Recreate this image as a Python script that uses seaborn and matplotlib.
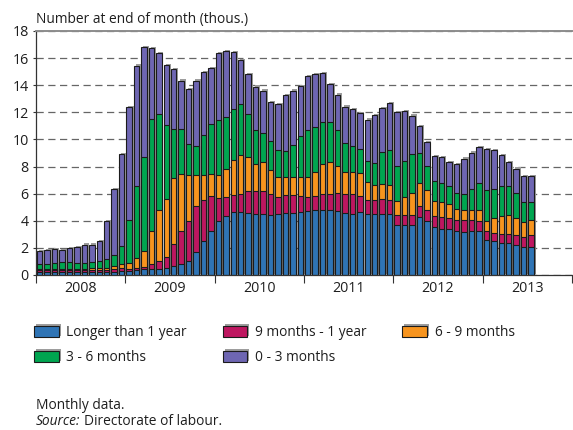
import numpy as np
import pandas as pd
import matplotlib
matplotlib.use("Agg")
import matplotlib.pyplot as plt
import matplotlib.patheffects as pe
from matplotlib.patches import Patch
import seaborn as sns

# Monthly observations, January 2008 - July 2013 (thousands)
years = ["2008", "2009", "2010", "2011", "2012", "2013"]
months = pd.period_range("2008-01", "2013-07", freq="M").strftime("%Y-%m").tolist()

longer_1y = [0.25, 0.25, 0.25, 0.25, 0.25, 0.25, 0.25, 0.25, 0.25, 0.25, 0.25, 0.30,
             0.32, 0.37, 0.42, 0.45, 0.47, 0.54, 0.64, 0.80, 1.04, 1.72, 2.49, 3.22,
             4.00, 4.36, 4.62, 4.63, 4.60, 4.53, 4.48, 4.46, 4.47, 4.55, 4.60, 4.66,
             4.73, 4.78, 4.83, 4.78, 4.71, 4.60, 4.53, 4.62, 4.47, 4.48, 4.53, 4.53,
             3.68, 3.68, 3.68, 4.29, 3.97, 3.52, 3.43, 3.38, 3.26, 3.20, 3.26, 3.28,
             2.57, 2.50, 2.38, 2.33, 2.21, 2.08, 2.04]
months_9_12 = [0.12, 0.12, 0.12, 0.12, 0.12, 0.12, 0.12, 0.12, 0.12, 0.15, 0.20, 0.25,
               0.15, 0.12, 0.19, 0.36, 0.56, 0.76, 1.62, 2.45, 2.94, 3.35, 3.02, 2.59,
               1.71, 1.40, 1.28, 1.35, 1.62, 1.67, 1.74, 1.49, 1.31, 1.33, 1.28, 1.14,
               1.05, 1.02, 1.12, 1.18, 1.34, 1.35, 1.42, 1.21, 1.04, 1.08, 1.11, 1.03,
               0.73, 0.73, 0.73, 0.77, 0.86, 0.83, 0.86, 0.84, 0.78, 0.84, 0.78, 0.69,
               0.65, 0.61, 0.63, 0.66, 0.73, 0.74, 0.90]
months_6_9 = [0.10, 0.10, 0.10, 0.10, 0.10, 0.10, 0.10, 0.13, 0.13, 0.15, 0.20, 0.25,
              0.44, 0.73, 1.15, 2.45, 3.80, 4.29, 4.91, 4.17, 3.39, 2.30, 1.89, 1.64,
              1.64, 2.08, 2.60, 2.90, 2.48, 2.01, 2.11, 1.77, 1.47, 1.35, 1.35, 1.43,
              1.42, 1.82, 2.23, 2.37, 1.96, 1.65, 1.65, 1.70, 1.32, 1.11, 1.10, 1.06,
              1.03, 1.38, 1.63, 1.71, 1.42, 1.14, 1.10, 1.05, 0.83, 0.79, 0.79, 0.83,
              0.80, 1.06, 1.33, 1.42, 1.27, 1.10, 1.10]
months_3_6 = [0.33, 0.35, 0.40, 0.50, 0.50, 0.45, 0.45, 0.45, 0.50, 0.60, 0.82, 1.37,
              3.18, 5.32, 6.94, 8.26, 7.06, 5.44, 3.60, 3.34, 2.31, 2.18, 2.93, 3.70,
              4.11, 3.80, 3.72, 3.74, 3.19, 2.47, 2.15, 2.17, 1.94, 1.90, 2.38, 3.00,
              3.46, 3.30, 3.14, 2.99, 2.65, 2.14, 1.95, 1.78, 1.56, 1.57, 2.31, 2.62,
              2.61, 2.64, 2.91, 2.22, 1.81, 1.42, 1.39, 1.33, 1.15, 1.12, 1.49, 2.00,
              2.28, 2.20, 2.20, 2.13, 1.84, 1.47, 1.35]
months_0_3 = [0.96, 1.02, 1.04, 0.87, 1.02, 1.14, 1.33, 1.30, 1.52, 2.82, 4.85, 6.77,
              8.29, 8.90, 8.09, 5.22, 4.46, 4.48, 4.42, 3.58, 4.03, 4.79, 4.64, 4.12,
              4.89, 4.88, 4.23, 3.25, 2.91, 3.22, 3.12, 2.85, 3.43, 4.13, 3.99, 3.70,
              4.00, 3.91, 3.56, 2.78, 2.64, 2.69, 2.69, 2.63, 3.08, 3.58, 3.28, 3.43,
              3.99, 3.67, 2.81, 1.97, 1.74, 1.87, 1.90, 1.73, 2.14, 2.63, 2.71, 2.64,
              2.96, 2.82, 2.33, 1.79, 1.79, 1.89, 1.89]

series_labels = ["Longer than 1 year", "9 months - 1 year", "6 - 9 months",
                 "3 - 6 months", "0 - 3 months"]
series_values = [longer_1y, months_9_12, months_6_9, months_3_6, months_0_3]
colors = ["#2f74b5", "#be1660", "#f7941e", "#00a550", "#6e66b2"]

# Stacked layout: cumulative totals for each duration band
df = pd.DataFrame({"month": months})
running = np.zeros(len(months))
cum_cols = []
for lab, vals in zip(series_labels, series_values):
    running = running + np.asarray(vals)
    df["cum " + lab] = running
    cum_cols.append("cum " + lab)

sns.set_theme(style="white")
plt.rcParams["font.family"] = ["Open Sans", "DejaVu Sans"]
text_color = "#1e1e1e"
fs = 9.9

fig = plt.figure(figsize=(5.73, 4.30), dpi=100)
ax = fig.add_axes([36 / 573, 1 - 275 / 430, 536 / 573, 244 / 430])

edge = "#1b1b1b"
shadow = [pe.SimplePatchShadow(offset=(1.4, 0.9), shadow_rgbFace="#9d9d9d", alpha=1.0),
          pe.Normal()]

# Tallest cumulative layer first, smaller ones drawn on top of it
for k in range(len(series_labels) - 1, -1, -1):
    n_before = len(ax.patches)
    sns.barplot(data=df, x="month", y=cum_cols[k], order=months, color=colors[k],
                saturation=1, width=0.72, edgecolor=edge, linewidth=0.8,
                errorbar=None, ax=ax, zorder=2)
    if k == len(series_labels) - 1:
        for p in ax.patches[n_before:]:
            p.set_path_effects(shadow)

ax.set_xlim(-0.5, 71.5)
ax.set_ylim(0, 18)
ax.set_xlabel("")
ax.set_ylabel("")

ax.set_yticks(np.arange(0, 19, 2))
ax.set_yticklabels([str(v) for v in range(0, 19, 2)])

ax.set_xticks([12 * i - 0.5 for i in range(7)])
ax.set_xticklabels([])
ax.set_xticks([12 * i + 5.5 for i in range(len(years))], minor=True)
ax.set_xticklabels(years, minor=True)

ax.tick_params(axis="x", which="major", bottom=True, length=5.8, width=0.8,
               color="#333333", direction="out")
ax.tick_params(axis="x", which="minor", bottom=True, length=0, pad=4.5,
               labelsize=fs + 0.4, labelcolor=text_color)
ax.tick_params(axis="y", which="major", left=True, length=2.2, width=0.8,
               color="#333333", direction="out", labelsize=fs + 0.4, pad=3,
               labelcolor=text_color)

ax.yaxis.grid(True, linestyle=(0, (5.8, 3.6)), color="#666666", linewidth=0.9)
ax.xaxis.grid(False)
ax.set_axisbelow(True)

for side in ["left", "bottom"]:
    ax.spines[side].set_color("#333333")
    ax.spines[side].set_linewidth(0.9)
ax.spines["top"].set_color("#8c8c8c")
ax.spines["top"].set_linewidth(1.4)
ax.spines["right"].set_visible(False)

fig.text(36 / 573, 1 - 23 / 430, "Number at end of month (thous.)", ha="left",
         va="baseline", fontsize=fs, color=text_color)

# Legend: two rows, filled column by column
handles = [Patch(facecolor=c, edgecolor=edge, linewidth=0.8, path_effects=shadow)
           for c in colors]
order = [0, 3, 1, 4, 2]
ax.legend([handles[i] for i in order], [series_labels[i] for i in order],
          ncol=3, loc="upper left", bbox_to_anchor=(34 / 573, 1 - 325 / 430),
          bbox_transform=fig.transFigure, frameon=False, fontsize=fs,
          handlelength=1.8, handleheight=0.88, handletextpad=0.55,
          columnspacing=2.6, labelspacing=0.72, borderpad=0, borderaxespad=0,
          labelcolor=text_color)

fig.text(36 / 573, 1 - 409 / 430, "Monthly data.", ha="left", va="baseline",
         fontsize=fs, color=text_color)
src = fig.text(36 / 573, 1 - 425 / 430, "Source:", ha="left", va="baseline",
               fontsize=fs, style="italic", color=text_color)
fig.canvas.draw()
bb = src.get_window_extent()
fig.text(bb.x1 / fig.bbox.width + 3 / 573, 1 - 425 / 430, "Directorate of labour.",
         ha="left", va="baseline", fontsize=fs, color=text_color)

fig.savefig("out.png", dpi=100)
